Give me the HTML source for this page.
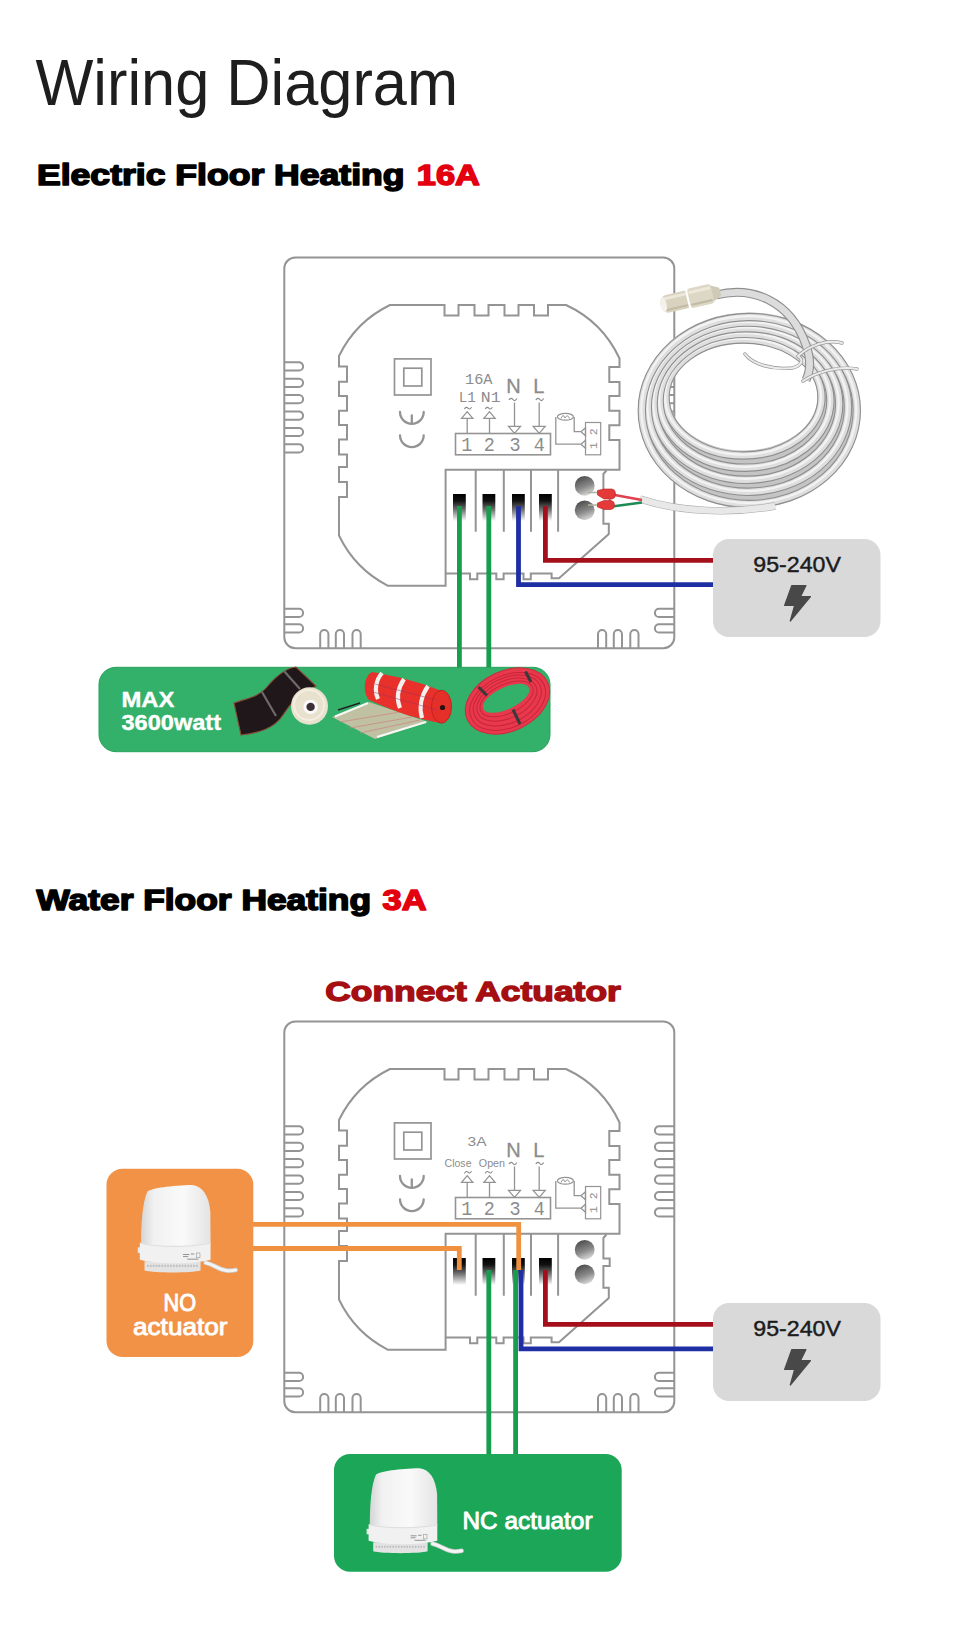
<!DOCTYPE html>
<html><head><meta charset="utf-8"><style>
html,body{margin:0;padding:0;background:#fff;}
svg{display:block;}
</style></head><body>
<svg width="960" height="1645" viewBox="0 0 960 1645">
<defs>
<linearGradient id="hole" x1="0" y1="0" x2="0" y2="1">
<stop offset="0" stop-color="#000"/><stop offset="0.25" stop-color="#111"/><stop offset="0.6" stop-color="#777"/><stop offset="1" stop-color="#fff"/>
</linearGradient>
<linearGradient id="screw" x1="0.3" y1="0" x2="0.7" y2="1">
<stop offset="0" stop-color="#4a4a4a"/><stop offset="0.55" stop-color="#8a8a8a"/><stop offset="1" stop-color="#e0e0e0"/>
</linearGradient>
<linearGradient id="act" x1="0" y1="0" x2="1" y2="0">
<stop offset="0" stop-color="#d5d5d5"/><stop offset="0.18" stop-color="#f1f1f1"/><stop offset="0.6" stop-color="#fafafa"/><stop offset="1" stop-color="#e4e4e4"/>
</linearGradient>
</defs>
<rect width="960" height="1645" fill="#fff"/>

<text x="35.5" y="104.5" font-family="Liberation Sans" font-size="64.7" font-weight="normal" fill="#1e1e1e" textLength="422.5" lengthAdjust="spacingAndGlyphs">Wiring Diagram</text>
<text x="37" y="185" font-family="Liberation Sans" font-size="29.0" font-weight="bold" fill="#000" textLength="367.5" lengthAdjust="spacingAndGlyphs" stroke="#000" stroke-width="1.55" stroke-linejoin="round">Electric Floor Heating</text>
<text x="416.8" y="185" font-family="Liberation Sans" font-size="29.0" font-weight="bold" fill="#e3000f" textLength="63.0" lengthAdjust="spacingAndGlyphs" stroke="#e3000f" stroke-width="1.55" stroke-linejoin="round">16A</text>
<text x="36.5" y="910.3" font-family="Liberation Sans" font-size="28.7" font-weight="bold" fill="#000" textLength="334.5" lengthAdjust="spacingAndGlyphs" stroke="#000" stroke-width="1.55" stroke-linejoin="round">Water Floor Heating</text>
<text x="382.5" y="910.3" font-family="Liberation Sans" font-size="28.7" font-weight="bold" fill="#e3000f" textLength="44.0" lengthAdjust="spacingAndGlyphs" stroke="#e3000f" stroke-width="1.55" stroke-linejoin="round">3A</text>
<text x="325.3" y="1000.9" font-family="Liberation Sans" font-size="28.2" font-weight="bold" fill="#a50f12" textLength="295.49999999999994" lengthAdjust="spacingAndGlyphs" stroke="#a50f12" stroke-width="1.45" stroke-linejoin="round">Connect Actuator</text>
<g transform="translate(0,0)" fill="none" stroke="#949494" stroke-width="2.0" stroke-linejoin="miter">
<rect x="284.3" y="257.5" width="390" height="390.8" rx="11"/>
<path d="M284.3,362.3H299A4.1,4.1 0 0 1 299,370.5H284.3M674.3,362.3H659A4.1,4.1 0 0 0 659,370.5H674.3M284.3,378.7H299A4.1,4.1 0 0 1 299,386.9H284.3M674.3,378.7H659A4.1,4.1 0 0 0 659,386.9H674.3M284.3,395.1H299A4.1,4.1 0 0 1 299,403.3H284.3M674.3,395.1H659A4.1,4.1 0 0 0 659,403.3H674.3M284.3,411.5H299A4.1,4.1 0 0 1 299,419.7H284.3M674.3,411.5H659A4.1,4.1 0 0 0 659,419.7H674.3M284.3,427.9H299A4.1,4.1 0 0 1 299,436.1H284.3M674.3,427.9H659A4.1,4.1 0 0 0 659,436.1H674.3M284.3,444.3H299A4.1,4.1 0 0 1 299,452.5H284.3M674.3,444.3H659A4.1,4.1 0 0 0 659,452.5H674.3M284.3,608.8H299A4.1,4.1 0 0 1 299,617.0H284.3M674.3,608.8H659A4.1,4.1 0 0 0 659,617.0H674.3M284.3,624.3H299A4.1,4.1 0 0 1 299,632.5H284.3M674.3,624.3H659A4.1,4.1 0 0 0 659,632.5H674.3M320.2,648.3V634A4.1,4.1 0 0 1 328.4,634V648.3M335.8,648.3V634A4.1,4.1 0 0 1 344.0,634V648.3M352.5,648.3V634A4.1,4.1 0 0 1 360.7,634V648.3M598.0,648.3V634A4.1,4.1 0 0 1 606.2,634V648.3M613.8,648.3V634A4.1,4.1 0 0 1 622.0,634V648.3M630.3,648.3V634A4.1,4.1 0 0 1 638.5,634V648.3"/>
<path d="M390,305H444.5V315.5H458.5V305H474.5V315.5H488.5V305H504.5V315.5H518.5V305H534V315.5H548V305H566A110,110 0 0 1 619.5,358.5V367H609.3V382H619.5V396H609.3V410.8H619.5V425.3H609.3V440H619.5V469.8H445.6V585.8H388A110,110 0 0 1 339,535.5V497H347V482H339V467H347V454.5H339V439.5H347V425H339V410.8H347V396H339V381.7H347V366.5H339V356A110,110 0 0 1 390,305Z"/>
<path d="M445.6,573.4H470V579.3H477.3V573.4H496.3V579.3H503.6V573.4H523.5V579.3H530.8V573.4H551.6V578.3H559L608.8,534V523.8H603.4V502H609.7V494.5H603.4V474L606.5,470.5"/>
<path d="M475.7,469.8V531.8M503.8,469.8V531.8M531,469.8V531.8M558.1,469.8V531.8"/>
<rect x="394.5" y="358.9" width="36.5" height="36.1" stroke-width="1.7"/>
<rect x="403.8" y="368.2" width="18" height="17.8" stroke-width="1.7"/>
<path d="M400,412A11.85,11.85 0 0 0 423.7,412M411.8,415.5V423.5" stroke-width="2.3" stroke-linecap="round"/>
<path d="M400,435.3A11.85,11.85 0 0 0 423.7,435.3" stroke-width="2.3" stroke-linecap="round"/>
<rect x="455.5" y="433.5" width="95" height="21.3" stroke-width="1.6"/>
<path d="M467.2,433.5V418.3M461.59999999999997,418.3H472.8L467.2,411.7ZM489.5,433.5V418.3M483.9,418.3H495.1L489.5,411.7ZM514.5,402.5V426.3M508.5,426.3H520.5L514.5,433.3ZM539.2,402.5V426.3M533.2,426.3H545.2L539.2,433.3Z" stroke-width="1.3"/>
<path d="M555.8,417V444.2H581M574.2,417V431.7H581M581,431.7L585.5,427.7V435.7ZM581,444.2L585.5,440.2V448.2Z" stroke-width="1.3"/>
<ellipse cx="565.4" cy="416.8" rx="8" ry="3.4" stroke-width="1.2"/>
<path d="M561,418.5Q563,413 565,418M565,418Q567.5,413.5 569.5,418.5" stroke-width="1"/>
<rect x="585.5" y="422.5" width="15.2" height="32.3" stroke-width="1.2"/>
</g>
<g transform="translate(0,0)" fill="#8c8c8c" font-family="Liberation Sans" >
<text x="466.7" y="450.8" font-size="20.5" font-family="Liberation Mono" text-anchor="middle" transform="translate(466.7,0) scale(0.9,1) translate(-466.7,0)">1</text>
<text x="489.4" y="450.8" font-size="20.5" font-family="Liberation Mono" text-anchor="middle" transform="translate(489.4,0) scale(0.9,1) translate(-489.4,0)">2</text>
<text x="515" y="450.8" font-size="20.5" font-family="Liberation Mono" text-anchor="middle" transform="translate(515,0) scale(0.9,1) translate(-515,0)">3</text>
<text x="539.2" y="450.8" font-size="20.5" font-family="Liberation Mono" text-anchor="middle" transform="translate(539.2,0) scale(0.9,1) translate(-539.2,0)">4</text>
<text x="513.4" y="392.5" font-size="20" text-anchor="middle" stroke="#8c8c8c" stroke-width="0.3">N</text>
<text x="538.8" y="392.5" font-size="20" text-anchor="middle" stroke="#8c8c8c" stroke-width="0.3">L</text>
<text x="593.8" y="438.6" font-size="11.5" text-anchor="middle" transform="rotate(-90 593.8 438.6)" font-family="Liberation Mono" dominant-baseline="central">1 2</text>
</g>
<g transform="translate(0,0)" fill="none" stroke="#8c8c8c" stroke-width="1.2">
<path d="M509,400Q511,397 513,399.5T516.8,398.5M535.8,400Q537.8,397 539.8,399.5T543.6,398.5"/>
</g>
<g transform="translate(0,0)">
<rect x="453" y="494" width="12.8" height="27" fill="url(#hole)"/>
<rect x="482.5" y="494" width="12.8" height="27" fill="url(#hole)"/>
<rect x="512" y="494" width="12.8" height="27" fill="url(#hole)"/>
<rect x="539" y="494" width="12.8" height="27" fill="url(#hole)"/>
<circle cx="584.7" cy="485.8" r="9.9" fill="url(#screw)"/>
<circle cx="584.7" cy="510.3" r="9.9" fill="url(#screw)"/>
</g>
<g transform="translate(0,764)" fill="none" stroke="#949494" stroke-width="2.0" stroke-linejoin="miter">
<rect x="284.3" y="257.5" width="390" height="390.8" rx="11"/>
<path d="M284.3,362.3H299A4.1,4.1 0 0 1 299,370.5H284.3M674.3,362.3H659A4.1,4.1 0 0 0 659,370.5H674.3M284.3,378.7H299A4.1,4.1 0 0 1 299,386.9H284.3M674.3,378.7H659A4.1,4.1 0 0 0 659,386.9H674.3M284.3,395.1H299A4.1,4.1 0 0 1 299,403.3H284.3M674.3,395.1H659A4.1,4.1 0 0 0 659,403.3H674.3M284.3,411.5H299A4.1,4.1 0 0 1 299,419.7H284.3M674.3,411.5H659A4.1,4.1 0 0 0 659,419.7H674.3M284.3,427.9H299A4.1,4.1 0 0 1 299,436.1H284.3M674.3,427.9H659A4.1,4.1 0 0 0 659,436.1H674.3M284.3,444.3H299A4.1,4.1 0 0 1 299,452.5H284.3M674.3,444.3H659A4.1,4.1 0 0 0 659,452.5H674.3M284.3,608.8H299A4.1,4.1 0 0 1 299,617.0H284.3M674.3,608.8H659A4.1,4.1 0 0 0 659,617.0H674.3M284.3,624.3H299A4.1,4.1 0 0 1 299,632.5H284.3M674.3,624.3H659A4.1,4.1 0 0 0 659,632.5H674.3M320.2,648.3V634A4.1,4.1 0 0 1 328.4,634V648.3M335.8,648.3V634A4.1,4.1 0 0 1 344.0,634V648.3M352.5,648.3V634A4.1,4.1 0 0 1 360.7,634V648.3M598.0,648.3V634A4.1,4.1 0 0 1 606.2,634V648.3M613.8,648.3V634A4.1,4.1 0 0 1 622.0,634V648.3M630.3,648.3V634A4.1,4.1 0 0 1 638.5,634V648.3"/>
<path d="M390,305H444.5V315.5H458.5V305H474.5V315.5H488.5V305H504.5V315.5H518.5V305H534V315.5H548V305H566A110,110 0 0 1 619.5,358.5V367H609.3V382H619.5V396H609.3V410.8H619.5V425.3H609.3V440H619.5V469.8H445.6V585.8H388A110,110 0 0 1 339,535.5V497H347V482H339V467H347V454.5H339V439.5H347V425H339V410.8H347V396H339V381.7H347V366.5H339V356A110,110 0 0 1 390,305Z"/>
<path d="M445.6,573.4H470V579.3H477.3V573.4H496.3V579.3H503.6V573.4H523.5V579.3H530.8V573.4H551.6V578.3H559L608.8,534V523.8H603.4V502H609.7V494.5H603.4V474L606.5,470.5"/>
<path d="M475.7,469.8V531.8M503.8,469.8V531.8M531,469.8V531.8M558.1,469.8V531.8"/>
<rect x="394.5" y="358.9" width="36.5" height="36.1" stroke-width="1.7"/>
<rect x="403.8" y="368.2" width="18" height="17.8" stroke-width="1.7"/>
<path d="M400,412A11.85,11.85 0 0 0 423.7,412M411.8,415.5V423.5" stroke-width="2.3" stroke-linecap="round"/>
<path d="M400,435.3A11.85,11.85 0 0 0 423.7,435.3" stroke-width="2.3" stroke-linecap="round"/>
<rect x="455.5" y="433.5" width="95" height="21.3" stroke-width="1.6"/>
<path d="M467.2,433.5V418.3M461.59999999999997,418.3H472.8L467.2,411.7ZM489.5,433.5V418.3M483.9,418.3H495.1L489.5,411.7ZM514.5,402.5V426.3M508.5,426.3H520.5L514.5,433.3ZM539.2,402.5V426.3M533.2,426.3H545.2L539.2,433.3Z" stroke-width="1.3"/>
<path d="M555.8,417V444.2H581M574.2,417V431.7H581M581,431.7L585.5,427.7V435.7ZM581,444.2L585.5,440.2V448.2Z" stroke-width="1.3"/>
<ellipse cx="565.4" cy="416.8" rx="8" ry="3.4" stroke-width="1.2"/>
<path d="M561,418.5Q563,413 565,418M565,418Q567.5,413.5 569.5,418.5" stroke-width="1"/>
<rect x="585.5" y="422.5" width="15.2" height="32.3" stroke-width="1.2"/>
</g>
<g transform="translate(0,764)" fill="#8c8c8c" font-family="Liberation Sans" >
<text x="466.7" y="450.8" font-size="20.5" font-family="Liberation Mono" text-anchor="middle" transform="translate(466.7,0) scale(0.9,1) translate(-466.7,0)">1</text>
<text x="489.4" y="450.8" font-size="20.5" font-family="Liberation Mono" text-anchor="middle" transform="translate(489.4,0) scale(0.9,1) translate(-489.4,0)">2</text>
<text x="515" y="450.8" font-size="20.5" font-family="Liberation Mono" text-anchor="middle" transform="translate(515,0) scale(0.9,1) translate(-515,0)">3</text>
<text x="539.2" y="450.8" font-size="20.5" font-family="Liberation Mono" text-anchor="middle" transform="translate(539.2,0) scale(0.9,1) translate(-539.2,0)">4</text>
<text x="513.4" y="392.5" font-size="20" text-anchor="middle" stroke="#8c8c8c" stroke-width="0.3">N</text>
<text x="538.8" y="392.5" font-size="20" text-anchor="middle" stroke="#8c8c8c" stroke-width="0.3">L</text>
<text x="593.8" y="438.6" font-size="11.5" text-anchor="middle" transform="rotate(-90 593.8 438.6)" font-family="Liberation Mono" dominant-baseline="central">1 2</text>
</g>
<g transform="translate(0,764)" fill="none" stroke="#8c8c8c" stroke-width="1.2">
<path d="M509,400Q511,397 513,399.5T516.8,398.5M535.8,400Q537.8,397 539.8,399.5T543.6,398.5"/>
</g>
<g transform="translate(0,764)">
<rect x="453" y="494" width="12.8" height="27" fill="url(#hole)"/>
<rect x="482.5" y="494" width="12.8" height="27" fill="url(#hole)"/>
<rect x="512" y="494" width="12.8" height="27" fill="url(#hole)"/>
<rect x="539" y="494" width="12.8" height="27" fill="url(#hole)"/>
<circle cx="584.7" cy="485.8" r="9.9" fill="url(#screw)"/>
<circle cx="584.7" cy="510.3" r="9.9" fill="url(#screw)"/>
</g>
<text x="465.0" y="384.2" font-family="Liberation Mono" font-size="15.2" font-weight="normal" fill="#8c8c8c" textLength="27.5" lengthAdjust="spacingAndGlyphs">16A</text>
<text x="458.8" y="402.2" font-family="Liberation Mono" font-size="14.8" font-weight="normal" fill="#8c8c8c" textLength="17.0" lengthAdjust="spacingAndGlyphs">L1</text>
<text x="480.8" y="402.2" font-family="Liberation Mono" font-size="14.8" font-weight="normal" fill="#8c8c8c" textLength="19.69999999999999" lengthAdjust="spacingAndGlyphs">N1</text>
<path fill="none" stroke="#8c8c8c" stroke-width="1.1" d="M464.4,409Q466.3,406.2 468,408.2T471.6,407.2M485.2,409Q487.1,406.2 488.8,408.2T492.4,407.2"/>
<text x="467.5" y="1146.2" font-family="Liberation Sans" font-size="13.2" font-weight="normal" fill="#8c8c8c" textLength="19.0" lengthAdjust="spacingAndGlyphs">3A</text>
<text x="444.6" y="1166.9" font-family="Liberation Sans" font-size="10.4" font-weight="normal" fill="#8c8c8c" textLength="26.899999999999977" lengthAdjust="spacingAndGlyphs">Close</text>
<text x="478.8" y="1166.9" font-family="Liberation Sans" font-size="10.4" font-weight="normal" fill="#8c8c8c" textLength="26.19999999999999" lengthAdjust="spacingAndGlyphs">Open</text>
<g transform="translate(0,764)"><path fill="none" stroke="#8c8c8c" stroke-width="1.1" d="M464.4,409.5Q466.3,406.2 468,408.2T471.6,407.2M485.2,409.5Q487.1,406.2 488.8,408.2T492.4,407.2"/></g>
<path d="M459.4,506V668" fill="none" stroke="#169d4d" stroke-width="4.8" stroke-linejoin="miter"/>
<path d="M488.8,506V668" fill="none" stroke="#169d4d" stroke-width="4.8" stroke-linejoin="miter"/>
<path d="M518.5,506V584.7H714" fill="none" stroke="#1e2ea3" stroke-width="4.8" stroke-linejoin="miter"/>
<path d="M545.4,506V560.3H714" fill="none" stroke="#a50f1b" stroke-width="4.8" stroke-linejoin="miter"/>
<path d="M252,1224.3H518.7V1270" fill="none" stroke="#f0913f" stroke-width="4.8" stroke-linejoin="miter"/>
<path d="M252,1248.5H459.3V1270" fill="none" stroke="#f0913f" stroke-width="4.8" stroke-linejoin="miter"/>
<path d="M521,1270V1348.8H714" fill="none" stroke="#1e2ea3" stroke-width="4.8" stroke-linejoin="miter"/>
<path d="M545.4,1270V1324.4H714" fill="none" stroke="#a50f1b" stroke-width="4.8" stroke-linejoin="miter"/>
<path d="M488.8,1270V1455" fill="none" stroke="#169d4d" stroke-width="4.8" stroke-linejoin="miter"/>
<path d="M515.6,1270V1455" fill="none" stroke="#169d4d" stroke-width="4.8" stroke-linejoin="miter"/>
<g transform="translate(0,0)"><rect x="713" y="539" width="167.5" height="98" rx="16" fill="#d9d9d9"/><text x="753.3" y="572.3" font-family="Liberation Sans" font-size="22.8" font-weight="normal" fill="#1c1c1c" textLength="87.70000000000005" lengthAdjust="spacingAndGlyphs" stroke="#1c1c1c" stroke-width="0.45" stroke-linejoin="round">95-240V</text><path d="M791.8,585.5H806L800.6,596.6H810.5L790.3,621L794.6,605.4H784.6Z" fill="#484848" stroke="#484848" stroke-width="1.2" stroke-linejoin="round"/></g>
<g transform="translate(0,764)"><rect x="713" y="539" width="167.5" height="98" rx="16" fill="#d9d9d9"/><text x="753.3" y="572.3" font-family="Liberation Sans" font-size="22.8" font-weight="normal" fill="#1c1c1c" textLength="87.70000000000005" lengthAdjust="spacingAndGlyphs" stroke="#1c1c1c" stroke-width="0.45" stroke-linejoin="round">95-240V</text><path d="M791.8,585.5H806L800.6,596.6H810.5L790.3,621L794.6,605.4H784.6Z" fill="#484848" stroke="#484848" stroke-width="1.2" stroke-linejoin="round"/></g>
<rect x="99" y="667.3" width="451" height="84.4" rx="17" fill="#33b06a" stroke="#27a35b" stroke-width="1"/>
<text x="121.5" y="707.3" font-family="Liberation Sans" font-size="22.5" font-weight="bold" fill="#fff" textLength="53.0" lengthAdjust="spacingAndGlyphs" stroke="#fff" stroke-width="0.4" stroke-linejoin="round">MAX</text>
<text x="121.5" y="729.8" font-family="Liberation Sans" font-size="22.5" font-weight="bold" fill="#fff" textLength="99.5" lengthAdjust="spacingAndGlyphs" stroke="#fff" stroke-width="0.4" stroke-linejoin="round">3600watt</text>
<rect x="106.5" y="1168.8" width="146.8" height="188.2" rx="16" fill="#f19246"/>
<text x="163.5" y="1310.5" font-family="Liberation Sans" font-size="23.5" font-weight="normal" fill="#fff" textLength="32.5" lengthAdjust="spacingAndGlyphs" stroke="#fff" stroke-width="0.95" stroke-linejoin="round">NO</text>
<text x="133" y="1335.2" font-family="Liberation Sans" font-size="23.5" font-weight="normal" fill="#fff" textLength="94.5" lengthAdjust="spacingAndGlyphs" stroke="#fff" stroke-width="0.95" stroke-linejoin="round">actuator</text>
<rect x="334" y="1454" width="287.7" height="117.7" rx="16" fill="#1ba658"/>
<text x="462.5" y="1529.3" font-family="Liberation Sans" font-size="24" font-weight="normal" fill="#fff" textLength="130.0" lengthAdjust="spacingAndGlyphs" stroke="#fff" stroke-width="0.95" stroke-linejoin="round">NC actuator</text>
<g fill="none">
<path fill-rule="evenodd" fill="#c4c4c4" d="M638,410.4A111.3,98 0 1 0 860.6,410.4A111.3,98 0 1 0 638,410.4ZM669.5,397A74,53.5 0 1 0 817.5,397A74,53.5 0 1 0 669.5,397Z"/>
<ellipse cx="743.5" cy="397.5" rx="78.0" ry="58.0" stroke="#8e8e8e" stroke-width="8.4"/>
<ellipse cx="743.5" cy="397.5" rx="78.0" ry="58.0" stroke="#dedede" stroke-width="6.2"/>
<ellipse cx="743.0" cy="396.6" rx="78.0" ry="58.0" stroke="#f3f3f3" stroke-width="2.2"/>
<ellipse cx="745.0" cy="400.8" rx="85.4" ry="66.9" stroke="#8e8e8e" stroke-width="8.4"/>
<ellipse cx="745.0" cy="400.8" rx="85.4" ry="66.9" stroke="#dedede" stroke-width="6.2"/>
<ellipse cx="744.5" cy="399.9" rx="85.4" ry="66.9" stroke="#f3f3f3" stroke-width="2.2"/>
<ellipse cx="746.4" cy="404.0" rx="92.8" ry="75.8" stroke="#8e8e8e" stroke-width="8.4"/>
<ellipse cx="746.4" cy="404.0" rx="92.8" ry="75.8" stroke="#dedede" stroke-width="6.2"/>
<ellipse cx="745.9" cy="403.1" rx="92.8" ry="75.8" stroke="#f3f3f3" stroke-width="2.2"/>
<ellipse cx="747.9" cy="407.2" rx="100.1" ry="84.6" stroke="#8e8e8e" stroke-width="8.4"/>
<ellipse cx="747.9" cy="407.2" rx="100.1" ry="84.6" stroke="#dedede" stroke-width="6.2"/>
<ellipse cx="747.4" cy="406.4" rx="100.1" ry="84.6" stroke="#f3f3f3" stroke-width="2.2"/>
<ellipse cx="749.3" cy="410.5" rx="107.5" ry="93.5" stroke="#8e8e8e" stroke-width="8.4"/>
<ellipse cx="749.3" cy="410.5" rx="107.5" ry="93.5" stroke="#dedede" stroke-width="6.2"/>
<ellipse cx="748.8" cy="409.6" rx="107.5" ry="93.5" stroke="#f3f3f3" stroke-width="2.2"/>
<path d="M716,295C752,286 790,300 806,345C812,362 810,372 806,380" stroke="#8e8e8e" stroke-width="9"/>
<path d="M716,295C752,286 790,300 806,345C812,362 810,372 806,380" stroke="#dcdcdc" stroke-width="6.8"/>
<path d="M640,499C680,512 730,514 775,506" stroke="#a9a9a9" stroke-width="7.4"/>
<path d="M640,499C680,512 730,514 775,506" stroke="#e8e8e8" stroke-width="6.4"/>
<path d="M745,354C752,364 772,370 792,368C801,366 804,360 799,357M803,381C818,371 840,366 857,369M798,356C810,345 828,339 842,343" stroke="#9a9a9a" stroke-width="3.4" stroke-linecap="round"/>
<path d="M745,354C752,364 772,370 792,368C801,366 804,360 799,357M803,381C818,371 840,366 857,369M798,356C810,345 828,339 842,343" stroke="#ececec" stroke-width="2" stroke-linecap="round"/>
</g>
<g transform="rotate(-13 688 299)"><path d="M712,290.5L721,295V303L712,307.5Z" fill="#cfcab8"/><path d="M667,290H687V308H667A7,9 0 0 1 667,290Z" fill="#d8d2bf"/><rect x="689" y="289" width="24" height="20" rx="3" fill="#ddd8c6"/><path d="M665,293.5H686M691,293H711" stroke="#ebe7da" stroke-width="3" stroke-linecap="round"/><path d="M664,305H686M691,305.5H711" stroke="#c2bba6" stroke-width="2.2" stroke-linecap="round"/><ellipse cx="663" cy="299" rx="3" ry="7.5" fill="#f3f1ea"/></g>
<path d="M612,494.5L642,500" stroke="#e04050" stroke-width="2.6" fill="none"/>
<path d="M612,506.5L642,502.5" stroke="#1e8a55" stroke-width="2.4" fill="none"/>
<path d="M588,492.5H598M588,505H598" stroke="#b0b0a0" stroke-width="1.6"/>
<path d="M597.5,490.5L604,489H612Q615.5,489.5 615.5,494Q615.5,498.5 612,499H604L597.5,495Z" fill="#e43a3a" stroke="#b82020" stroke-width="0.6"/>
<path d="M597.5,503L604,500.5H611Q614.5,501 614.5,505Q614.5,509 611,509.5H604L597.5,507Z" fill="#e43a3a" stroke="#b82020" stroke-width="0.6"/>
<path d="M234,703C248,698 258,697 266,688C276,676 286,668 296,667L316,686C305,691 292,700 283,715C274,729 258,733 241,735Z" fill="#1f1719" stroke="#8a4a38" stroke-width="1.1"/>
<path d="M262,692L276,716M284,671L300,689" stroke="#6e6a6c" stroke-width="2.2"/>
<ellipse cx="309.5" cy="706" rx="18.5" ry="18.8" fill="#e8e1cd"/>
<ellipse cx="309" cy="705" rx="15" ry="15" fill="none" stroke="#f3eee1" stroke-width="2"/>
<circle cx="310.6" cy="706.9" r="7.2" fill="#fafafa"/>
<circle cx="310.6" cy="706.9" r="4.2" fill="#3b3036"/>
<path d="M332,717L369,702L428,722L375,739Z" fill="#d9c3ad" opacity="0.85"/>
<path d="M335,716.5L368,703M377,737L426,722" stroke="#fff" stroke-width="2.2" opacity="0.9"/>
<path d="M340,722L400,712M350,728L412,717M360,733L420,720" stroke="#c98a86" stroke-width="0.8"/>
<path d="M360,703L338,710" stroke="#222" stroke-width="1.5"/>
<path d="M372,672C395,676 420,682 440,690.5L442,723C420,720 395,712 369,700C362,692 364,676 372,672Z" fill="#e8312b"/>
<ellipse cx="441.5" cy="706.7" rx="10" ry="16.5" fill="#e5302a" stroke="#c4221d" stroke-width="1"/>
<circle cx="442.5" cy="707.5" r="2.6" fill="#2a1010"/>
<path d="M382,673C376,680 374,690 378,699M404,679C398,688 396,698 400,708M428,686C421,696 419,708 422,718" stroke="#f4f0ee" stroke-width="4.2" fill="none"/>
<path d="M375,684L436,700M373,692L437,710" stroke="#9a3060" stroke-width="0.8" opacity="0.6"/>
<g transform="rotate(-25 507.5 701)">
<path fill-rule="evenodd" fill="#e8384c" d="M463.2,701A44.3,30.1 0 1 0 551.8,701A44.3,30.1 0 1 0 463.2,701ZM482.3,698A25.2,10.9 0 1 0 532.7,698A25.2,10.9 0 1 0 482.3,698Z"/>
<ellipse cx="507.5" cy="701.5" rx="40" ry="26" fill="none" stroke="#c8253a" stroke-width="1"/>
<ellipse cx="507.5" cy="700.5" rx="36" ry="22.5" fill="none" stroke="#c8253a" stroke-width="1"/>
<ellipse cx="507.5" cy="699.5" rx="32" ry="18.5" fill="none" stroke="#c8253a" stroke-width="1"/>
<ellipse cx="507.5" cy="698.7" rx="28.5" ry="14.5" fill="none" stroke="#c8253a" stroke-width="1"/>
<ellipse cx="507.5" cy="701" rx="44.3" ry="30.1" fill="none" stroke="#d02a40" stroke-width="1"/>
</g>
<path d="M478.5,687L487,695.5M513,709.5L520,724M525.5,671.5L531,682" stroke="#3a3a3a" stroke-width="3"/>
<g transform="translate(368.6,1468.3) scale(1.0)">
<path d="M64,75.5C72,77 76,82 84,83C88,83.5 91,83 93,82.5" fill="none" stroke="#c8c8c8" stroke-width="4.6" stroke-linecap="round"/>
<path d="M64,75.5C72,77 76,82 84,83C88,83.5 91,83 93,82.5" fill="none" stroke="#f4f4f4" stroke-width="3" stroke-linecap="round"/>
<path d="M4.6,74H59V83C50,85.5 14,85.5 4.6,83Z" fill="#e3e3e3"/>
<path d="M7,78.5H57" stroke="#bfbfbf" stroke-width="2" stroke-dasharray="1.6,1.2"/>
<path d="M-2,60.5H2V66H-2Z" fill="#e8e8e8"/>
<path d="M0,56H68.7V72.5C52,77 16,77 0,72.5Z" fill="#f1f1f1"/>
<path d="M7.4,6.3C12,3 30,0.5 51,0C60,1 67,9 68.5,26L68.7,56.5C45,60 20,60 1.2,56.5C1.2,38 2.5,17 7.4,6.3Z" fill="url(#act)"/>
<path d="M1.2,56.8C20,60.3 45,60.3 68.7,56.8" fill="none" stroke="#dedede" stroke-width="1"/>
<path d="M42,67.5H48M42,69.5H47M49.5,67H53M46,72H57" stroke="#8a8a8a" stroke-width="0.9"/>
<rect x="55" y="66" width="3.4" height="4.6" fill="none" stroke="#9a9a9a" stroke-width="0.6"/>
</g>
<g transform="translate(139.8,1185.0) scale(1.03)">
<path d="M64,75.5C72,77 76,82 84,83C88,83.5 91,83 93,82.5" fill="none" stroke="#c8c8c8" stroke-width="4.6" stroke-linecap="round"/>
<path d="M64,75.5C72,77 76,82 84,83C88,83.5 91,83 93,82.5" fill="none" stroke="#f4f4f4" stroke-width="3" stroke-linecap="round"/>
<path d="M4.6,74H59V83C50,85.5 14,85.5 4.6,83Z" fill="#e3e3e3"/>
<path d="M7,78.5H57" stroke="#bfbfbf" stroke-width="2" stroke-dasharray="1.6,1.2"/>
<path d="M-2,60.5H2V66H-2Z" fill="#e8e8e8"/>
<path d="M0,56H68.7V72.5C52,77 16,77 0,72.5Z" fill="#f1f1f1"/>
<path d="M7.4,6.3C12,3 30,0.5 51,0C60,1 67,9 68.5,26L68.7,56.5C45,60 20,60 1.2,56.5C1.2,38 2.5,17 7.4,6.3Z" fill="url(#act)"/>
<path d="M1.2,56.8C20,60.3 45,60.3 68.7,56.8" fill="none" stroke="#dedede" stroke-width="1"/>
<path d="M42,67.5H48M42,69.5H47M49.5,67H53M46,72H57" stroke="#8a8a8a" stroke-width="0.9"/>
<rect x="55" y="66" width="3.4" height="4.6" fill="none" stroke="#9a9a9a" stroke-width="0.6"/>
</g>

</svg></body></html>
